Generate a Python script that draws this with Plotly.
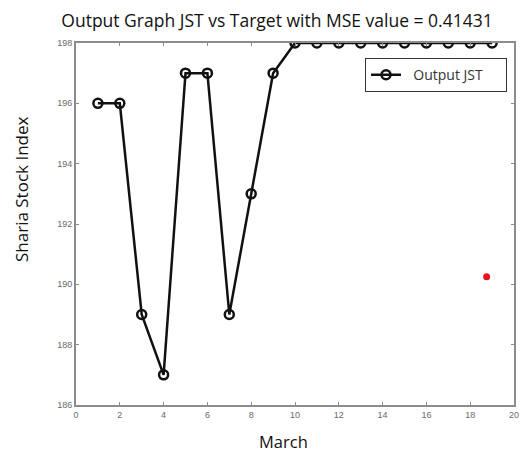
import plotly.graph_objects as go

days = list(range(1, 20))
output_jst = [196, 196, 189, 187, 197, 197, 189, 193, 197, 198, 198, 198, 198, 198, 198, 198, 198, 198, 198]
target_x = [18.75]
target_y = [190.25]
x_ticks = list(range(0, 21, 2))
y_ticks = list(range(186, 199, 2))

fig = go.Figure()
fig.add_trace(go.Scatter(
    x=days, y=output_jst, mode="lines+markers", name="  Output JST     ",
    line=dict(color="#111111", width=2.5),
    marker=dict(symbol="circle-open", size=9, color="#111111", line=dict(width=2.5)),
))
fig.add_trace(go.Scatter(
    x=target_x, y=target_y, mode="markers", showlegend=False,
    marker=dict(color="#e8141c", size=7),
))

axis_common = dict(showgrid=False, zeroline=False, showline=True, linecolor="#8c8c8c",
                   linewidth=2, mirror="ticks", ticks="inside", ticklen=3, tickcolor="#8c8c8c",
                   automargin=False,
                   tickfont=dict(family="Liberation Sans", size=9, color="#6a6a6a"))
fig.update_xaxes(range=[0, 20], tickvals=x_ticks, **axis_common)
fig.update_yaxes(range=[186, 198], tickvals=y_ticks, **axis_common)

OFF = 8  # page body margin
FW, FH = 528 - OFF, 455 - OFF
L, R, T, B = 76 - OFF, 14, 43 - OFF, 50

fig.update_layout(
    width=FW, height=FH,
    margin=dict(l=L, r=R, t=T, b=B),
    paper_bgcolor="white", plot_bgcolor="white",
    showlegend=True,
    title=dict(text="Output Graph JST vs Target with MSE value = 0.41431",
               x=(277 - OFF) / FW, xanchor="center",
               y=1 - (21 - OFF) / FH, yanchor="middle", yref="container",
               font=dict(family="Open Sans", size=17.5, color="#111111")),
    legend=dict(x=0.984, y=0.958, xanchor="right", yanchor="top",
                bordercolor="#333333", borderwidth=1, bgcolor="white",
                font=dict(family="Open Sans", size=14, color="#333333")),
)
W = FW - L - R
H = FH - T - B
def px(xp):
    return (xp - OFF - L) / W
def py(yp):
    return (FH - B - (yp - OFF)) / H

txt = dict(xref="paper", yref="paper", showarrow=False, xanchor="center", yanchor="middle")
fig.add_annotation(text="March", x=px(283), y=py(442), **txt,
                   font=dict(family="Open Sans", size=16.5, color="#111111"))
fig.add_annotation(text="Sharia Stock Index", x=px(21), y=py(189), textangle=-90, **txt,
                   font=dict(family="Open Sans", size=17, color="#111111"))

fig.write_html("out.html")
